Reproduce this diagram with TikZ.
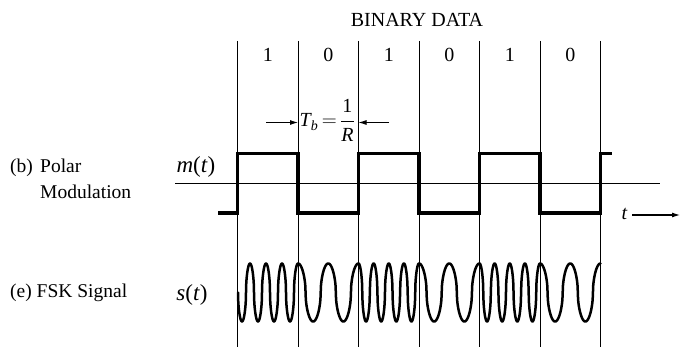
\documentclass[tikz,border=0pt]{standalone}
\usepackage{amsmath}
\usepackage{fontspec}
\setmainfont{Liberation Serif}
\usepackage{tikz}
\usetikzlibrary{arrows.meta}

\tikzset{
    lbl/.style={font=\fontsize{20}{23}\selectfont, inner sep=0pt},
    side/.style={font=\fontsize{19.5}{22}\selectfont, inner sep=0pt, anchor=base west},
    sig/.style={font=\fontsize{23}{26}\selectfont, inner sep=0pt, anchor=base},
    grid/.style={line width=0.9pt},
    polar/.style={line width=3.2pt, line join=miter},
    fsk/.style={line width=2.5pt, line join=round, line cap=round},
    arr/.style={-{Latex[length=8pt,width=5pt]}, line width=0.9pt},
}

\begin{document}
\begin{tikzpicture}[x=1pt, y=-1pt]
    \useasboundingbox (0,0) rectangle (680,347);
    % bit boundaries
    \foreach \i in {0,...,6} {
        \coordinate (top\i) at (237.5+60.5*\i, 41);
        \coordinate (bot\i) at (237.5+60.5*\i, 347);
        \draw[grid] (top\i) -- (bot\i);
    }
    \node[lbl, anchor=base] (title) at (417,27) {BINARY DATA};
    \foreach \b [count=\i] in {1,0,1,0,1,0}
        \node[lbl, anchor=base] (bit\i) at (237.5+60.5*\i-30.25, 61.5) {\b};

    % bit period
    \node[lbl, anchor=base west] (tb) at (299.5,127)
        {$\mathit{T}_{\mathit{b}}\,{=}\,\dfrac{\mathrm{1}}{\mathit{R}}$};
    \coordinate (tbl) at (266,122.5);
    \coordinate (tbr) at (389,122.5);
    \draw[arr] (tbl) -- (tbl -| top1);
    \draw[arr] (tbr) -- (tbr -| top2);

    % polar modulation
    \node[side] (lb) at (10,173) {(b)};
    \node[side] (lbpolar) at (40,173) {Polar};
    \node[side] (lbmod) at (40,198.5) {Modulation};
    \node[sig] (mlab) at (196,173) {\textit{m}(\textit{t})};
    \draw[grid] (175,183) -- (660,183);
    \draw[polar] (218,213) -- (237.5,213) -- (237.5,153.5) -- (298,153.5)
        -- (298,213) -- (358.5,213) -- (358.5,153.5) -- (419,153.5)
        -- (419,213) -- (479.5,213) -- (479.5,153.5) -- (540,153.5)
        -- (540,213) -- (600.5,213) -- (600.5,153.5) -- (612,153.5);
    \node[sig, font=\fontsize{20}{22}\selectfont\itshape] (tlab) at (624.5,220) {t};
    \coordinate (tend) at (680,215);
    \draw[arr, line width=1.1pt] (tlab.east |- tend) ++(5,0) -- (tend);

    % FSK signal
    \node[side] (le) at (10,298) {(e) FSK Signal};
    \node[sig] (slab) at (192,301) {\textit{s}(\textit{t})};
    \draw[fsk] plot[domain=238:298, samples=241]
        (\x, {292.5-29*cos((\x-298)/16*360)/sqrt(abs(cos((\x-298)/16*360))+0.0001)})
        \foreach \a/\e/\n in {298/358.5/2, 358.5/419/4, 419/479.5/2, 479.5/540/4, 540/600.5/2} {
            -- plot[domain=\a:\e, samples=241]
            (\x, {292.5-29*cos((\x-\a)/60.5*\n*360)/sqrt(abs(cos((\x-\a)/60.5*\n*360))+0.0001)})
        };
\end{tikzpicture}
\end{document}
